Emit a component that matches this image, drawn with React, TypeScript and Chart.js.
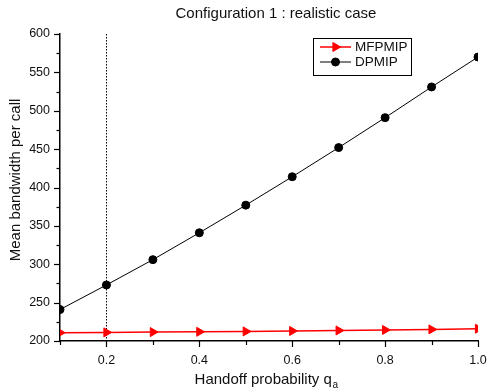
import React, { useEffect, useRef } from "react";
import { Chart, registerables } from "chart.js";

Chart.register(...registerables);

const X_VALUES = [0.1, 0.2, 0.3, 0.4, 0.5, 0.6, 0.7, 0.8, 0.9, 1.0];
const MFPMIP = [210.8, 211.2, 211.6, 212, 212.5, 213.1, 213.7, 214.4, 215.1, 216];
const DPMIP = [241, 273, 306, 341, 377, 414, 452, 491, 531, 570];
const X_TICKS = [0.2, 0.4, 0.6, 0.8, 1.0];
const X_MINOR = [0.1, 0.3, 0.5, 0.7, 0.9];
const Y_TICKS = [200, 250, 300, 350, 400, 450, 500, 550, 600];
const Y_MINOR = [225, 275, 325, 375, 425, 475, 525, 575];
const MARK_X = 0.2;
const TITLE = "Configuration 1 : realistic case";
const X_TITLE = "Handoff probability q";
const X_TITLE_SUB = "a";
const Y_TITLE = "Mean bandwidth per call";
const SERIES_NAMES = ["MFPMIP", "DPMIP"];
const SERIES_COLORS = ["#ff0000", "#000000"];

const FONT = "'Liberation Sans', Arial, sans-serif";

function drawTriangleRight(ctx: CanvasRenderingContext2D, x: number, y: number, r: number) {
  ctx.beginPath();
  ctx.moveTo(x + r, y);
  ctx.lineTo(x - r * 0.5, y - r * 0.866);
  ctx.lineTo(x - r * 0.5, y + r * 0.866);
  ctx.closePath();
  ctx.fill();
  ctx.stroke();
}

const decorPlugin = {
  id: "decor",
  beforeDatasetsDraw(chart: any) {
    const { ctx, chartArea } = chart;
    const xs = chart.scales.x;
    const px = Math.round(xs.getPixelForValue(MARK_X)) + 0.5;
    ctx.save();
    ctx.strokeStyle = "#000";
    ctx.lineWidth = 1;
    ctx.setLineDash([1.5, 1.5]);
    ctx.beginPath();
    ctx.moveTo(px, chartArea.top);
    ctx.lineTo(px, chartArea.bottom);
    ctx.stroke();
    ctx.restore();
  },
  afterDraw(chart: any) {
    const { ctx, chartArea } = chart;
    const xs = chart.scales.x;
    const ys = chart.scales.y;
    ctx.save();
    ctx.strokeStyle = "#000";
    ctx.lineWidth = 1.2;
    const drawY = (v: number, len: number) => {
      const p = Math.round(ys.getPixelForValue(v)) + 0.5;
      ctx.beginPath();
      ctx.moveTo(chartArea.left - len, p);
      ctx.lineTo(chartArea.left, p);
      ctx.stroke();
    };
    Y_TICKS.forEach((v) => drawY(v, 6));
    Y_MINOR.forEach((v) => drawY(v, 3.5));
    const drawX = (v: number, len: number) => {
      const p = Math.round(xs.getPixelForValue(v)) + 0.5;
      ctx.beginPath();
      ctx.moveTo(p, chartArea.bottom);
      ctx.lineTo(p, chartArea.bottom + len);
      ctx.stroke();
    };
    X_TICKS.forEach((v) => drawX(v, 6));
    X_MINOR.forEach((v) => drawX(v, 4));

    // title
    ctx.fillStyle = "#111";
    ctx.font = `15px ${FONT}`;
    ctx.textAlign = "center";
    ctx.textBaseline = "alphabetic";
    ctx.fillText(TITLE, 276, 18);

    // x title with subscript
    ctx.font = `15px ${FONT}`;
    const w1 = ctx.measureText(X_TITLE).width;
    ctx.font = `10px ${FONT}`;
    const w2 = ctx.measureText(X_TITLE_SUB).width;
    const startX = 266 - (w1 + w2) / 2;
    ctx.textAlign = "left";
    ctx.font = `15px ${FONT}`;
    ctx.fillText(X_TITLE, startX, 384);
    ctx.font = `10px ${FONT}`;
    ctx.fillText(X_TITLE_SUB, startX + w1 + 0.5, 388);

    // y title
    ctx.save();
    ctx.translate(20, 180);
    ctx.rotate(-Math.PI / 2);
    ctx.font = `15px ${FONT}`;
    ctx.textAlign = "center";
    ctx.fillText(Y_TITLE, 0, 0);
    ctx.restore();

    // legend
    const bx = 313, by = 38, bw = 98, bh = 37;
    ctx.fillStyle = "#fff";
    ctx.fillRect(bx, by, bw, bh);
    ctx.strokeStyle = "#000";
    ctx.lineWidth = 1;
    ctx.strokeRect(bx + 0.5, by + 0.5, bw, bh);
    const rows = [47, 62];
    rows.forEach((ry, i) => {
      const c = SERIES_COLORS[i];
      ctx.strokeStyle = c;
      ctx.fillStyle = c;
      ctx.lineWidth = i === 0 ? 1.5 : 1;
      ctx.beginPath();
      ctx.moveTo(320, ry);
      ctx.lineTo(351, ry);
      ctx.stroke();
      ctx.lineWidth = 1;
      if (i === 0) {
        drawTriangleRight(ctx, 335.5, ry, 5.2);
      } else {
        ctx.beginPath();
        ctx.arc(335.5, ry, 4, 0, Math.PI * 2);
        ctx.fill();
        ctx.stroke();
      }
      ctx.fillStyle = "#111";
      ctx.font = `13.5px ${FONT}`;
      ctx.textAlign = "left";
      ctx.textBaseline = "middle";
      ctx.fillText(SERIES_NAMES[i], 355, ry + 0.5);
    });
    ctx.restore();
  },
};

export default function App() {
  const ref = useRef<HTMLCanvasElement | null>(null);
  useEffect(() => {
    document.body.style.margin = "0";
    const canvas = ref.current;
    if (!canvas) return;
    const tickFont = { family: FONT, size: 12.5 };
    const chart = new Chart(canvas, {
      type: "line",
      data: {
        labels: X_VALUES,
        datasets: [
          {
            label: SERIES_NAMES[0],
            data: X_VALUES.map((x, i) => ({ x, y: MFPMIP[i] })),
            borderColor: SERIES_COLORS[0],
            backgroundColor: SERIES_COLORS[0],
            borderWidth: 1.5,
            pointStyle: "triangle",
            rotation: 90,
            pointRadius: 5.2,
            pointBorderWidth: 1,
            pointBorderColor: SERIES_COLORS[0],
            pointBackgroundColor: SERIES_COLORS[0],
          },
          {
            label: SERIES_NAMES[1],
            data: X_VALUES.map((x, i) => ({ x, y: DPMIP[i] })),
            borderColor: SERIES_COLORS[1],
            backgroundColor: SERIES_COLORS[1],
            borderWidth: 1,
            pointStyle: "circle",
            pointRadius: 4,
            pointBorderWidth: 1,
            pointBorderColor: SERIES_COLORS[1],
            pointBackgroundColor: SERIES_COLORS[1],
          },
        ],
      },
      options: {
        responsive: false,
        animation: false,
        layout: { padding: { top: 34, right: 10, left: 0, bottom: 0 } },
        plugins: {
          legend: { display: false },
          title: { display: false },
          tooltip: { enabled: false },
        },
        scales: {
          x: {
            type: "linear",
            min: 0.1,
            max: 1.0,
            afterBuildTicks: (s: any) => {
              s.ticks = X_TICKS.map((v) => ({ value: v }));
            },
            afterFit: (s: any) => {
              s.height = 51;
              s.paddingLeft = 0;
              s.paddingRight = 0;
            },
            ticks: {
              callback: (v: any) => Number(v).toFixed(1),
              font: tickFont,
              color: "#111",
              padding: 4,
              maxRotation: 0,
              autoSkip: false,
            },
            grid: { display: false },
            border: { display: true, color: "#000", width: 1.5 },
          },
          y: {
            type: "linear",
            min: 200,
            max: 600,
            afterBuildTicks: (s: any) => {
              s.ticks = Y_TICKS.map((v) => ({ value: v }));
            },
            afterFit: (s: any) => {
              s.width = 60;
              s.paddingTop = 0;
              s.paddingBottom = 0;
            },
            ticks: {
              callback: (v: any) => String(v),
              font: tickFont,
              color: "#111",
              padding: 2,
              autoSkip: false,
            },
            grid: { display: false },
            border: { display: true, color: "#000", width: 1.5 },
          },
        },
      },
      plugins: [decorPlugin],
    } as any);
    return () => chart.destroy();
  }, []);
  return (
    <div style={{ position: "absolute", left: 0, top: 0, width: 488, height: 392 }}>
      <canvas ref={ref} width={488} height={392} style={{ display: "block" }} />
    </div>
  );
}
